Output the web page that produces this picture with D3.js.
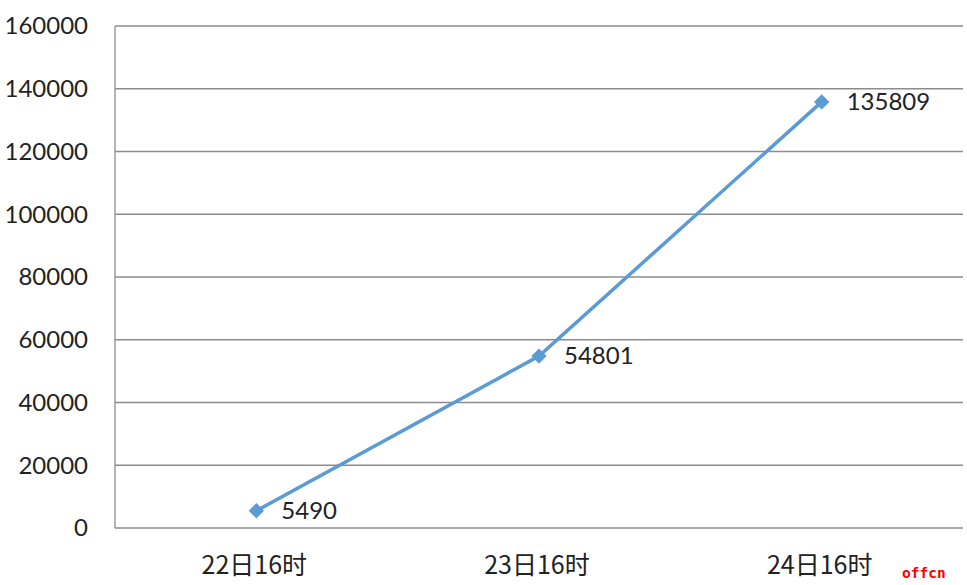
<!DOCTYPE html>
<html><head><meta charset="utf-8">
<script src="https://cdn.jsdelivr.net/npm/d3@7"></script>
<style>body{margin:0;background:#fff}</style>
</head><body>
<svg id="c" width="967" height="585"></svg>
<script>
const categories = ["22日16时", "23日16时", "24日16时"];
const values = [5490, 54801, 135809];
const yTicks = [0, 20000, 40000, 60000, 80000, 100000, 120000, 140000, 160000];

const svg = d3.select("#c");
const L = 115, R = 963, T = 26, B = 528;
const x = d3.scaleBand().domain(categories).range([L, R]);
const y = d3.scaleLinear().domain([0, 160000]).range([B, T]);
const fontNum = "Lato, 'Open Sans', sans-serif";

// gridlines
svg.append("g").selectAll("line").data(yTicks.filter(d => d > 0)).join("line")
  .attr("x1", L).attr("x2", R).attr("y1", d => y(d)).attr("y2", d => y(d))
  .attr("stroke", "#8c8c8c").attr("stroke-width", 1.3);

// axes lines
svg.append("line").attr("x1", L).attr("x2", L).attr("y1", T).attr("y2", B)
  .attr("stroke", "#8c8c8c").attr("stroke-width", 1.3);
svg.append("line").attr("x1", L).attr("x2", R).attr("y1", B).attr("y2", B)
  .attr("stroke", "#8c8c8c").attr("stroke-width", 1.3);

// y labels
svg.append("g").selectAll("text").data(yTicks).join("text")
  .attr("x", 88).attr("y", d => y(d)).attr("dy", "0.35em")
  .attr("text-anchor", "end").attr("font-family", fontNum).attr("font-size", 24)
  .attr("fill", "#222").text(d => d);

// x labels
svg.append("g").selectAll("text").data(categories).join("text")
  .attr("x", d => x(d) + x.bandwidth() / 2 - 2).attr("y", 574)
  .attr("text-anchor", "middle").attr("font-family", "'Noto Sans CJK SC', sans-serif").attr("font-size", 25)
  .attr("fill", "#222").text(d => d);

const pts = categories.map((c, i) => [x(c) + x.bandwidth() / 2, y(values[i]), values[i]]);

svg.append("path").datum(pts)
  .attr("d", d3.line().x(d => d[0]).y(d => d[1]))
  .attr("fill", "none").attr("stroke", "#5B9BD5").attr("stroke-width", 3.5);

svg.append("g").selectAll("path").data(pts).join("path")
  .attr("transform", d => `translate(${d[0]},${d[1]})`)
  .attr("d", d3.symbol(d3.symbolDiamond2, 150))
  .attr("fill", "#5B9BD5");

svg.append("g").selectAll("text").data(pts).join("text")
  .attr("x", d => d[0] + 25).attr("y", d => d[1]).attr("dy", "0.35em")
  .attr("font-family", fontNum).attr("font-size", 24).attr("fill", "#222")
  .text(d => d[2]);

svg.append("text").attr("x", 902).attr("y", 578)
  .attr("font-family", "'DejaVu Sans Mono', monospace").attr("font-weight", "bold")
  .attr("font-size", 14.5).attr("fill", "#ff0000").text("offcn");
</script>
</body></html>
